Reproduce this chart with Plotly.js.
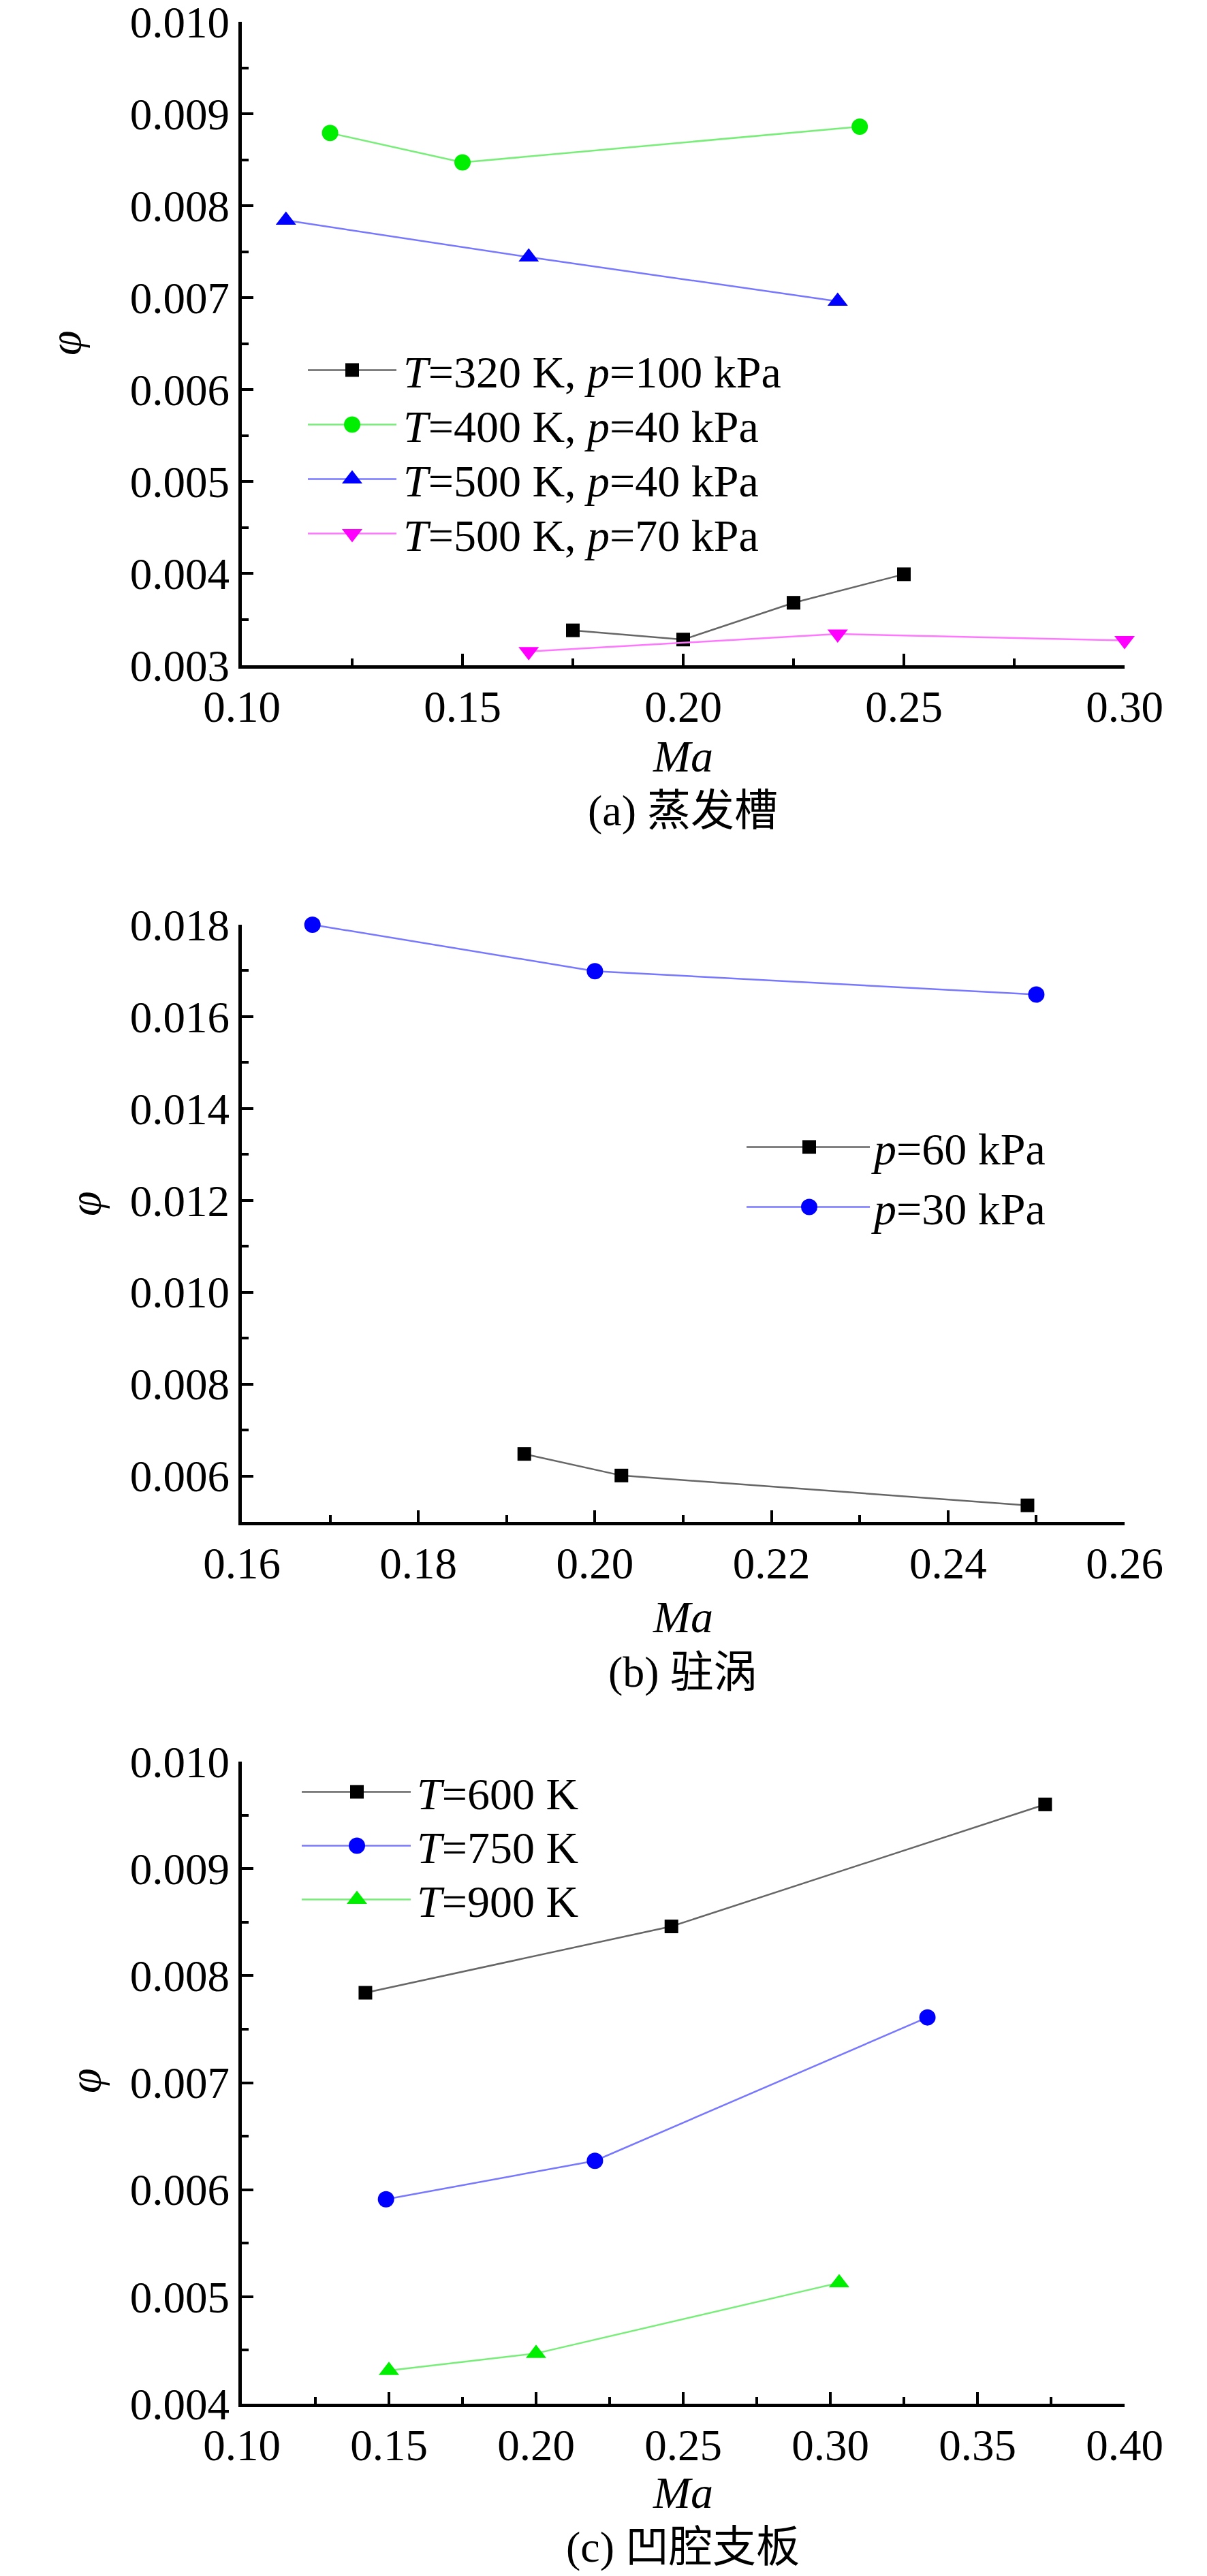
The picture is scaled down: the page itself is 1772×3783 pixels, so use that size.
<!DOCTYPE html>
<html>
<head>
<meta charset="utf-8">
<script src="https://cdn.plot.ly/plotly-3.0.1.min.js"></script>
<style>
  html, body { margin: 0; padding: 0; background: #fff; }
  #chart { width: 1772px; height: 3783px; }
</style>
</head>
<body>
<div id="chart"></div>
<script>
/* Three stacked panels: phi vs Ma for (a) evaporation groove,
   (b) trapped vortex, (c) cavity strut */

// ---- (a) 蒸发槽 ----
const A_MA_T320_P100 = [0.175, 0.200, 0.225, 0.250];
const A_PHI_T320_P100 = [0.00338, 0.00328, 0.00368, 0.00399];
const A_MA_T400_P40 = [0.120, 0.150, 0.240];
const A_PHI_T400_P40 = [0.00879, 0.00847, 0.00886];
const A_MA_T500_P40 = [0.110, 0.165, 0.235];
const A_PHI_T500_P40 = [0.00784, 0.00744, 0.00696];
const A_MA_T500_P70 = [0.165, 0.235, 0.300];
const A_PHI_T500_P70 = [0.00315, 0.00334, 0.00327];

// ---- (b) 驻涡 ----
const B_MA_P60 = [0.192, 0.203, 0.249];
const B_PHI_P60 = [0.00648, 0.00601, 0.00536];
const B_MA_P30 = [0.168, 0.200, 0.250];
const B_PHI_P30 = [0.01800, 0.01699, 0.01648];

// ---- (c) 凹腔支板 ----
const C_MA_T600 = [0.142, 0.246, 0.373];
const C_PHI_T600 = [0.00784, 0.00846, 0.00960];
const C_MA_T750 = [0.149, 0.220, 0.333];
const C_PHI_T750 = [0.00591, 0.00627, 0.00761];
const C_MA_T900 = [0.150, 0.200, 0.303];
const C_PHI_T900 = [0.00431, 0.00447, 0.00513];

const A_NAMES = ['<i>T</i>=320 K, <i>p</i>=100 kPa', '<i>T</i>=400 K, <i>p</i>=40 kPa',
                 '<i>T</i>=500 K, <i>p</i>=40 kPa', '<i>T</i>=500 K, <i>p</i>=70 kPa'];
const B_NAMES = ['<i>p</i>=60 kPa', '<i>p</i>=30 kPa'];
const C_NAMES = ['<i>T</i>=600 K', '<i>T</i>=750 K', '<i>T</i>=900 K'];
const CAPTIONS = ['(a) 蒸发槽', '(b) 驻涡', '(c) 凹腔支板'];

const W = 1772, H = 3783;
const SERIF = 'Liberation Serif, Times New Roman, Noto Sans CJK SC, serif';

// page px -> paper
const px = v => v / W;
const py = v => 1 - v / H;

// ---- styles per symbol ----
const STY = {
  black:   { marker: '#000000', line: '#666666', symbol: 'square',        size: 20 },
  green:   { marker: '#00ee00', line: '#77ee77', symbol: 'circle',        size: 24 },
  blue:    { marker: '#0000ff', line: '#7777ff', symbol: 'triangle-up',   size: 26 },
  magenta: { marker: '#ff00ff', line: '#ff77ff', symbol: 'triangle-down', size: 26 },
  blueDot: { marker: '#0000ff', line: '#7777ff', symbol: 'circle',        size: 24 },
  greenTri:{ marker: '#00ee00', line: '#77ee77', symbol: 'triangle-up',   size: 26 }
};

function _trace(x, y, name, sty, n, legend, group) {
  return {
    type: 'scatter', mode: 'lines+markers',
    x, y, name,
    xaxis: 'x' + (n === 1 ? '' : n), yaxis: 'y' + (n === 1 ? '' : n),
    legend, legendgroup: group,
    cliponaxis: false,
    line: { color: sty.line, width: 2.5 },
    marker: { color: sty.marker, symbol: sty.symbol, size: sty.size, line: { width: 0 } },
    hoverinfo: 'x+y'
  };
}

const data = [
  _trace(A_MA_T320_P100, A_PHI_T320_P100, A_NAMES[0], STY.black,   1, 'legend', 'a1'),
  _trace(A_MA_T400_P40,  A_PHI_T400_P40,  A_NAMES[1], STY.green,   1, 'legend', 'a2'),
  _trace(A_MA_T500_P40,  A_PHI_T500_P40,  A_NAMES[2], STY.blue,    1, 'legend', 'a3'),
  _trace(A_MA_T500_P70,  A_PHI_T500_P70,  A_NAMES[3], STY.magenta, 1, 'legend', 'a4'),
  _trace(B_MA_P60, B_PHI_P60, B_NAMES[0], STY.black,   2, 'legend2', 'b1'),
  _trace(B_MA_P30, B_PHI_P30, B_NAMES[1], STY.blueDot, 2, 'legend2', 'b2'),
  _trace(C_MA_T600, C_PHI_T600, C_NAMES[0], STY.black,    3, 'legend3', 'c1'),
  _trace(C_MA_T750, C_PHI_T750, C_NAMES[1], STY.blueDot,  3, 'legend3', 'c2'),
  _trace(C_MA_T900, C_PHI_T900, C_NAMES[2], STY.greenTri, 3, 'legend3', 'c3')
];

// ---- axes ----
const X_DOMAIN = [px(355), px(1651)];
const MINOR = { ticks: 'inside', ticklen: 10, tickwidth: 4, tickcolor: '#000', showgrid: false };

function _axis(extra, minorExtra) {
  return Object.assign({
    showline: true, linecolor: '#000', linewidth: 5, mirror: false,
    ticks: 'inside', ticklen: 17, tickwidth: 4, tickcolor: '#000',
    showgrid: false, zeroline: false,
    ticklabeloverflow: 'allow',
    tickfont: { family: SERIF, size: 65, color: '#000' },
    minor: Object.assign({}, MINOR, minorExtra),
    fixedrange: true
  }, extra);
}

const EPS = 1e-7;
const X_STANDOFF = 0, Y_STANDOFF = 0;
const layout = {
  width: W, height: H,
  margin: { l: 0, r: 0, t: 0, b: 0 },
  paper_bgcolor: '#fff', plot_bgcolor: '#fff',
  showlegend: true,
  font: { family: SERIF, color: '#000' },

  xaxis:  _axis({ domain: X_DOMAIN, anchor: 'y',  range: [0.10 - EPS, 0.30 + EPS], dtick: 0.05, tick0: 0.10,
                  tickformat: '.2f', ticklabelstandoff: X_STANDOFF }, { dtick: 0.025, tick0: 0.10 }),
  yaxis:  _axis({ domain: [py(977), py(32)], anchor: 'x', range: [0.003 - EPS * 0.1, 0.010 + EPS * 0.1], dtick: 0.001, tick0: 0.003,
                  tickformat: '.3f', ticklabelstandoff: Y_STANDOFF }, { dtick: 0.0005, tick0: 0.003 }),

  xaxis2: _axis({ domain: X_DOMAIN, anchor: 'y2', range: [0.16 - EPS, 0.26 + EPS], dtick: 0.02, tick0: 0.16,
                  tickformat: '.2f', ticklabelstandoff: X_STANDOFF }, { dtick: 0.01, tick0: 0.16 }),
  yaxis2: _axis({ domain: [py(2235), py(1358)], anchor: 'x2', range: [0.005, 0.018 + EPS * 0.1], dtick: 0.002, tick0: 0.006,
                  tickformat: '.3f', ticklabelstandoff: Y_STANDOFF }, { dtick: 0.001, tick0: 0.005 }),

  xaxis3: _axis({ domain: X_DOMAIN, anchor: 'y3', range: [0.10 - EPS, 0.40 + EPS], dtick: 0.05, tick0: 0.10,
                  tickformat: '.2f', ticklabelstandoff: X_STANDOFF }, { dtick: 0.025, tick0: 0.10 }),
  yaxis3: _axis({ domain: [py(3530), py(2587)], anchor: 'x3', range: [0.004 - EPS * 0.1, 0.010 + EPS * 0.1], dtick: 0.001, tick0: 0.004,
                  tickformat: '.3f', ticklabelstandoff: Y_STANDOFF }, { dtick: 0.0005, tick0: 0.004 }),

  legend:  { x: px(447),  y: py(494),  xanchor: 'left', yanchor: 'top', bgcolor: 'rgba(0,0,0,0)', borderwidth: 0,
             font: { family: SERIF, size: 66, color: '#000' }, itemwidth: 135, traceorder: 'grouped', tracegroupgap: 0 },
  legend2: { x: px(1091), y: py(1635), xanchor: 'left', yanchor: 'top', bgcolor: 'rgba(0,0,0,0)', borderwidth: 0,
             font: { family: SERIF, size: 66, color: '#000' }, itemwidth: 182, traceorder: 'grouped', tracegroupgap: 0 },
  legend3: { x: px(438),  y: py(2582), xanchor: 'left', yanchor: 'top', bgcolor: 'rgba(0,0,0,0)', borderwidth: 0,
             font: { family: SERIF, size: 66, color: '#000' }, itemwidth: 164, traceorder: 'grouped', tracegroupgap: 0 },

  annotations: []
};

// ---- axis titles and captions ----
const PANEL_TEXT = [
  { phiX: 96,  phiY: 504,  maY: 1110, capY: 1190 },
  { phiX: 124, phiY: 1768, maY: 2374, capY: 2455 },
  { phiX: 124, phiY: 3056, maY: 3660, capY: 3740 }
];
PANEL_TEXT.forEach((p, i) => {
  const base = { xref: 'paper', yref: 'paper', showarrow: false, xanchor: 'center', yanchor: 'middle' };
  layout.annotations.push(Object.assign({}, base, {
    x: px(p.phiX), y: py(p.phiY), text: '<i>φ</i>', textangle: -90,
    font: { family: SERIF, size: 66, color: '#000' }
  }));
  layout.annotations.push(Object.assign({}, base, {
    x: px(1003), y: py(p.maY), text: '<i>Ma</i>',
    font: { family: SERIF, size: 66, color: '#000' }
  }));
  layout.annotations.push(Object.assign({}, base, {
    x: px(1003), y: py(p.capY), text: CAPTIONS[i],
    font: { family: SERIF, size: 64, color: '#000' }
  }));
});

// ---- legend samples: longer lines, larger symbols, fixed row pitch ----
const LEGEND_GEOM = {
  legend:  { lineLen: 130, markX: 70, pitch: 80, sizes: [20, 24, 26, 26] },
  legend2: { lineLen: 181, markX: 97, pitch: 88, sizes: [20, 24] },
  legend3: { lineLen: 160, markX: 86, pitch: 79, sizes: [20, 24, 26] }
};

function _translateOf(el) {
  const m = /translate\(\s*([-\d.e]+)[ ,]+([-\d.e]+)\s*\)/.exec(el.getAttribute('transform') || '');
  return m ? [parseFloat(m[1]), parseFloat(m[2])] : null;
}

function stretchLegends(gd) {
  Object.keys(LEGEND_GEOM).forEach(id => {
    const g = LEGEND_GEOM[id];
    const items = gd.querySelectorAll('g.' + id + ' g.traces');
    let first = null;
    items.forEach((item, k) => {
      const t = _translateOf(item);
      if (k === 0) first = t;
      else if (t && first) item.setAttribute('transform', 'translate(' + t[0] + ',' + (first[1] + k * g.pitch) + ')');
      const ln = item.querySelector('path.js-line');
      if (ln) ln.setAttribute('d', 'M5,0h' + g.lineLen);
      const s = (g.sizes[k] || 20) / 16;
      item.querySelectorAll('g.legendpoints path.scatterpts').forEach(pt => {
        pt.setAttribute('transform', 'translate(' + g.markX + ',0) scale(' + s + ')');
      });
    });
  });
}

Plotly.newPlot('chart', data, layout, { staticPlot: true, displayModeBar: false })
  .then(gd => stretchLegends(gd));
</script>
</body>
</html>
